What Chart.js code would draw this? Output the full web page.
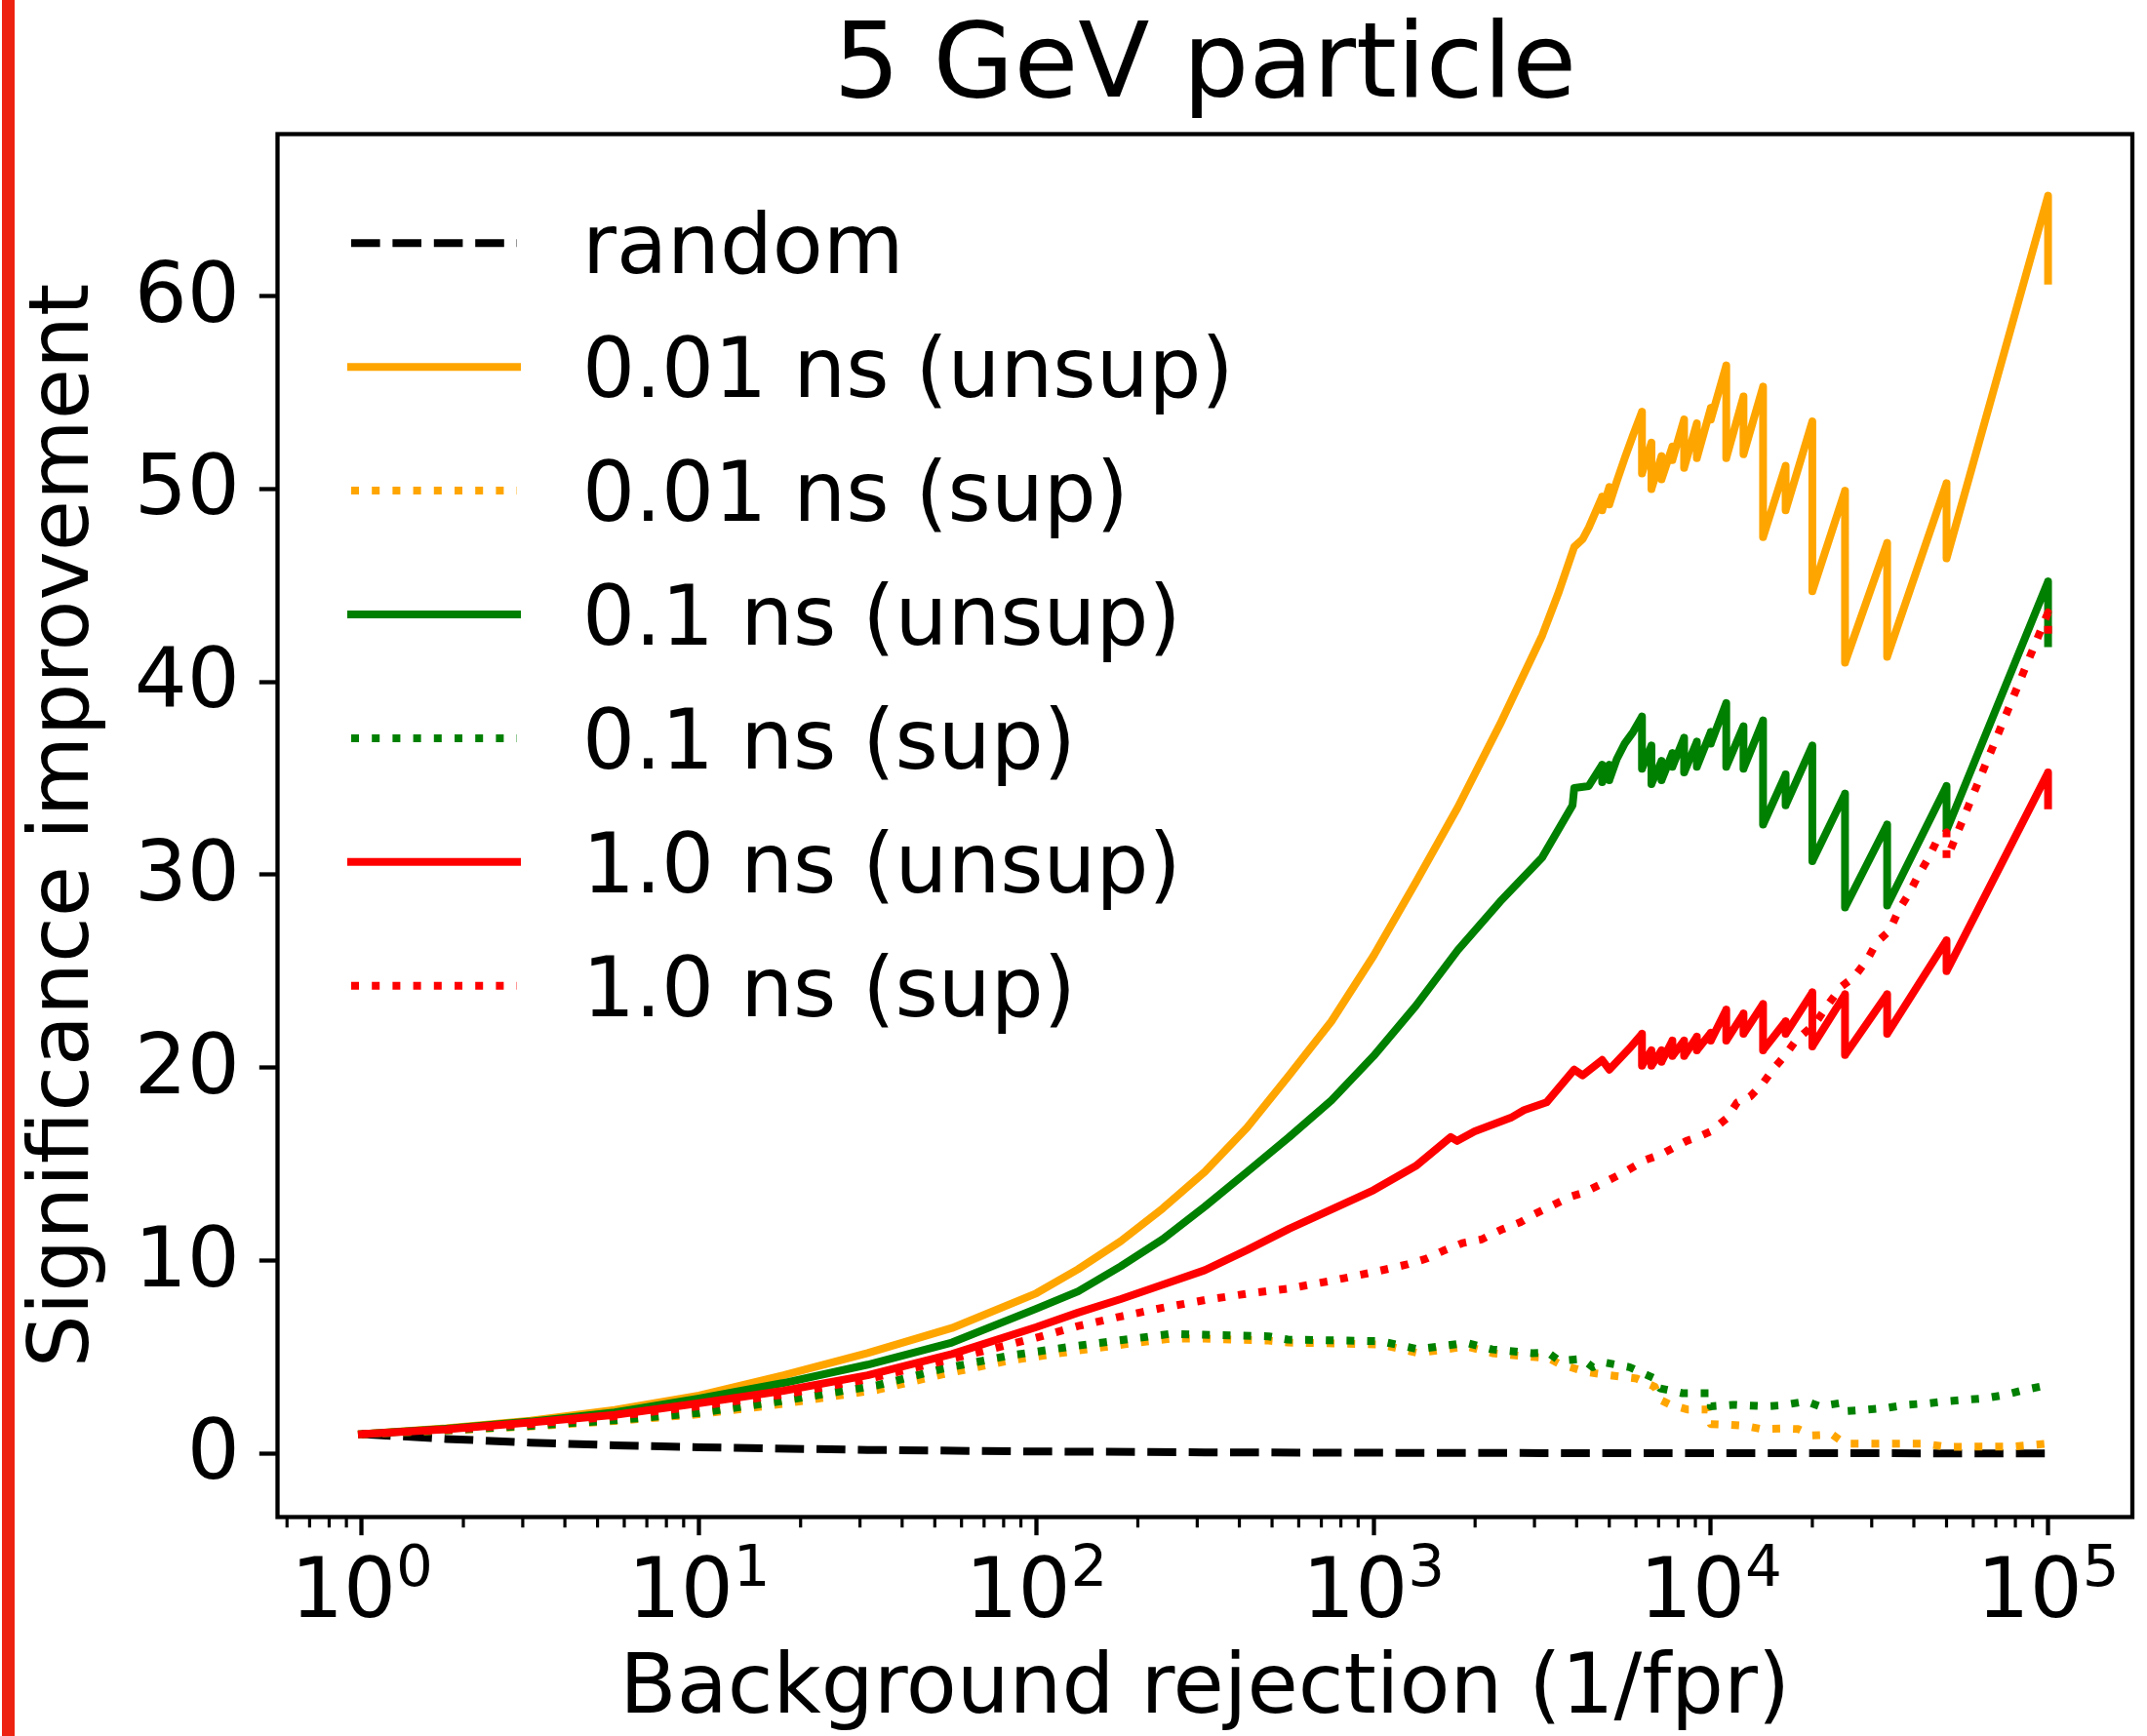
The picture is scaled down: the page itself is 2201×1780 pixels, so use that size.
<!DOCTYPE html>
<html>
<head>
<meta charset="utf-8">
<script src="https://cdn.jsdelivr.net/npm/chart.js@4.4.1/dist/chart.umd.min.js"></script>
<style>
  html, body { margin: 0; padding: 0; background: #fff; }
  canvas { display: block; }
</style>
</head>
<body>
<canvas id="myChart" width="2201" height="1780" style="width:2201px;height:1780px"></canvas>
<script>
const FONT = 'DejaVu Sans';

// axis ranges and ticks
const xMin = 0.5623;
const xMax = 177828;
const yMin = -3.3;
const yMax = 68.4;
const yTicks = [0, 10, 20, 30, 40, 50, 60];
const xDecades = [1, 10, 100, 1000, 10000, 100000];
const xExponents = ['0', '1', '2', '3', '4', '5'];

const labels = ['random', '0.01 ns (unsup)', '0.01 ns (sup)', '0.1 ns (unsup)', '0.1 ns (sup)', '1.0 ns (unsup)', '1.0 ns (sup)'];

// random
const randX = [1, 1.78, 3.16, 5.62, 10, 31.6, 100, 316, 1000, 3160, 10000, 31600, 100000];
const randY = [1, 0.75, 0.56, 0.42, 0.32, 0.18, 0.1, 0.056, 0.032, 0.018, 0.01, 0.006, 0.003];

// 0.01 ns (unsup)
const o1X = [1, 1.78, 3.16, 5.62, 10, 17.8, 31.6, 56.2, 100, 133, 178, 237, 316, 422, 562, 750, 1000, 1334, 1778, 2371, 3162, 3548, 3936, 4167, 4348, 4762, 4762, 5000, 5000, 5263, 5556, 5882, 6250, 6250, 6667, 6667, 7143, 7143, 7692, 7692, 8333, 8333, 9091, 9091, 10000, 10000, 11111, 11111, 12500, 12500, 14286, 14286, 16667, 16667, 20000, 20000, 25000, 25000, 33333, 33333, 50000, 50000, 100000, 100000];
const o1Y = [1, 1.3, 1.7, 2.25, 3.0, 4.05, 5.2, 6.5, 8.3, 9.55, 11.0, 12.7, 14.6, 16.9, 19.6, 22.4, 25.8, 29.6, 33.5, 37.8, 42.4, 44.7, 47.0, 47.4, 48.0, 49.6, 48.9, 50.1, 49.2, 50.4, 51.6, 52.8, 54.0, 50.8, 52.4, 50.0, 51.7, 50.5, 52.2, 51.5, 53.6, 51.1, 53.4, 51.6, 54.2, 53.6, 56.4, 51.6, 54.8, 51.8, 55.3, 47.5, 51.2, 48.9, 53.5, 44.7, 49.9, 41.0, 47.2, 41.3, 50.3, 46.4, 65.2, 60.8];

// 0.01 ns (sup)
const o2X = [1, 1.78, 3.16, 5.62, 10, 17.4, 33.9, 52.8, 82.4, 129, 200, 250, 313, 488, 557, 1047, 1355, 1888, 2249, 2951, 3296, 3556, 4305, 5012, 6026, 6823, 7079, 7586, 8511, 9772, 10000, 11220, 12589, 14125, 16218, 18197, 19953, 22909, 25000, 32734, 42658, 49774, 79433, 100000];
const o2Y = [1, 1.19, 1.4, 1.68, 2.03, 2.55, 3.3, 4.1, 4.8, 5.3, 5.75, 5.95, 5.95, 5.85, 5.75, 5.65, 5.2, 5.55, 5.2, 5.0, 4.95, 4.64, 4.21, 4.05, 3.88, 3.45, 2.78, 2.52, 2.28, 2.28, 1.52, 1.49, 1.43, 1.26, 1.29, 1.26, 0.93, 0.98, 0.51, 0.51, 0.51, 0.34, 0.36, 0.51];

// 0.1 ns (unsup)
const g1X = [1, 1.78, 3.16, 5.62, 10, 17.8, 31.6, 56.2, 100, 133, 178, 237, 316, 422, 562, 750, 1000, 1334, 1778, 2371, 3162, 3890, 3936, 4345, 4762, 4762, 5000, 5000, 5263, 5556, 5882, 6250, 6250, 6667, 6667, 7143, 7143, 7692, 7692, 8333, 8333, 9091, 9091, 10000, 10000, 11111, 11111, 12500, 12500, 14286, 14286, 16667, 16667, 20000, 20000, 25000, 25000, 33333, 33333, 50000, 50000, 100000, 100000];
const g1Y = [1, 1.28, 1.65, 2.12, 2.85, 3.65, 4.6, 5.75, 7.5, 8.4, 9.7, 11.1, 12.8, 14.6, 16.4, 18.3, 20.6, 23.2, 26.1, 28.6, 30.9, 33.6, 34.5, 34.6, 35.7, 34.8, 35.7, 34.9, 36.0, 36.8, 37.4, 38.2, 35.5, 36.7, 34.7, 35.9, 34.9, 36.3, 35.6, 37.1, 35.3, 36.9, 35.6, 37.4, 36.8, 38.9, 35.6, 37.7, 35.5, 38.0, 32.6, 35.2, 33.6, 36.7, 30.7, 34.2, 28.3, 32.6, 28.4, 34.6, 32.3, 45.2, 42.0];

// 0.1 ns (sup)
const g2X = [1, 1.78, 3.16, 5.62, 10, 17.4, 33.9, 52.8, 82.4, 129, 200, 250, 313, 488, 557, 1047, 1355, 1888, 2249, 2951, 3296, 3556, 4150, 4467, 4831, 5741, 6823, 7079, 8241, 9977, 10000, 11641, 14555, 16368, 19143, 21038, 24044, 25000, 29107, 33266, 38019, 44259, 49774, 56885, 65013, 74302, 84918, 100000];
const g2Y = [1, 1.2, 1.43, 1.72, 2.1, 2.7, 3.54, 4.39, 5.06, 5.56, 5.98, 6.2, 6.15, 6.07, 5.9, 5.82, 5.4, 5.73, 5.39, 5.2, 5.22, 4.8, 4.9, 4.47, 4.72, 4.47, 3.88, 3.37, 3.12, 3.12, 2.44, 2.52, 2.44, 2.5, 2.7, 2.44, 2.6, 2.19, 2.27, 2.36, 2.52, 2.6, 2.7, 2.78, 2.86, 3.03, 3.29, 3.54];

// 1.0 ns (unsup)
const r1X = [1, 1.78, 3.16, 5.62, 10, 17.8, 31.6, 56.2, 100, 133, 178, 237, 316, 422, 562, 750, 1000, 1334, 1694, 1770, 1995, 2553, 2793, 3258, 3936, 4167, 4762, 5000, 5808, 6250, 6250, 6667, 6667, 7143, 7143, 7692, 7692, 8333, 8333, 9091, 9091, 10000, 10000, 11111, 11111, 12500, 12500, 14286, 14286, 16667, 16667, 20000, 20000, 25000, 25000, 33333, 33333, 50000, 50000, 100000, 100000];
const r1Y = [1, 1.25, 1.6, 2.0, 2.6, 3.25, 4.05, 5.15, 6.55, 7.3, 8.0, 8.75, 9.5, 10.55, 11.65, 12.65, 13.65, 14.9, 16.4, 16.2, 16.7, 17.4, 17.8, 18.2, 19.9, 19.6, 20.4, 19.9, 21.1, 21.75, 20.1, 20.9, 20.1, 20.9, 20.3, 21.4, 20.6, 21.4, 20.6, 21.6, 20.9, 21.8, 21.4, 23.0, 21.4, 22.8, 21.75, 23.3, 20.9, 22.4, 21.75, 23.9, 21.1, 23.8, 20.65, 23.8, 21.75, 26.6, 25.0, 35.3, 33.6];

// 1.0 ns (sup)
const r2X = [1, 1.78, 3.16, 5.62, 10, 17.8, 31.6, 56.2, 100, 133, 178, 237, 316, 422, 562, 750, 1000, 1125, 1259, 1435, 1607, 1832, 2094, 2393, 2735, 2992, 3342, 3819, 4169, 4775, 5572, 6368, 7112, 7762, 8472, 9162, 10000, 11194, 11967, 13092, 14289, 15276, 16711, 17865, 20417, 22336, 24378, 26607, 29107, 31046, 33884, 36141, 38637, 41305, 44157, 47206, 50000, 50000, 100000, 100000];
const r2Y = [1, 1.22, 1.52, 1.92, 2.45, 3.05, 3.85, 4.9, 6.0, 6.6, 7.1, 7.55, 7.95, 8.28, 8.55, 8.95, 9.4, 9.6, 9.8, 10.1, 10.5, 10.9, 11.1, 11.6, 12.0, 12.4, 12.8, 13.3, 13.5, 14.0, 14.6, 15.2, 15.5, 15.85, 16.2, 16.4, 16.7, 17.4, 18.2, 18.5, 19.2, 19.9, 20.7, 21.4, 22.3, 23.3, 24.2, 24.7, 25.6, 26.5, 27.1, 28.2, 29.0, 30.0, 30.85, 31.9, 32.2, 30.8, 43.6, 42.5];

const LW = 8;
const DASHED = [29.6, 12.8];
const DOTTED = [8, 13.2];

function series(i, xs, ys, color, dash) {
    return {
        label: labels[i],
        data: xs.map((x, k) => ({x: x, y: ys[k]})),
        borderColor: color,
        borderWidth: LW,
        borderDash: dash,
        borderCapStyle: dash.length ? 'butt' : 'square',
        borderJoinStyle: 'round',
        pointRadius: 0,
        pointHoverRadius: 0,
        tension: 0,
        fill: false,
        order: -i
    };
}

// minor tick positions for the log axis
const minorTicks = [];
for (let e = -1; e <= 5; e++) {
    for (let m = 2; m <= 9; m++) {
        const v = m * Math.pow(10, e);
        if (v > xMin && v < xMax) minorTicks.push(v);
    }
}

const decorations = {
    id: 'decorations',
    beforeDraw(chart) {
        const ctx = chart.ctx;
        ctx.save();
        ctx.fillStyle = '#ee2211';
        ctx.fillRect(2, 0, 13, chart.height);
        ctx.restore();
    },
    afterDraw(chart) {
        const {ctx, chartArea: a} = chart;
        const xScale = chart.scales.x;
        ctx.save();

        // axes frame
        ctx.strokeStyle = '#000';
        ctx.lineWidth = 4.3;
        ctx.setLineDash([]);
        ctx.strokeRect(a.left, a.top, a.right - a.left, a.bottom - a.top);

        // minor ticks
        ctx.lineWidth = 3.2;
        ctx.beginPath();
        minorTicks.forEach(v => {
            const px = xScale.getPixelForValue(v);
            ctx.moveTo(px, a.bottom);
            ctx.lineTo(px, a.bottom + 10.7);
        });
        ctx.stroke();

        // decade labels 10^n
        ctx.fillStyle = '#000';
        ctx.textBaseline = 'alphabetic';
        ctx.textAlign = 'left';
        xDecades.forEach((v, i) => {
            const px = xScale.getPixelForValue(v);
            ctx.font = '85px "' + FONT + '"';
            const wBase = ctx.measureText('10').width;
            ctx.font = '59.5px "' + FONT + '"';
            const wExp = ctx.measureText(xExponents[i]).width;
            const x0 = px - (wBase + wExp) / 2;
            ctx.font = '85px "' + FONT + '"';
            ctx.fillText('10', x0, a.bottom + 102);
            ctx.font = '59.5px "' + FONT + '"';
            ctx.fillText(xExponents[i], x0 + wBase, a.bottom + 70.5);
        });

        // legend
        const rowTop = a.top + 111.8;
        const rowStep = 126.9;
        ctx.font = '85px "' + FONT + '"';
        chart.data.datasets.forEach((ds, i) => {
            const cy = rowTop + i * rowStep;
            ctx.strokeStyle = ds.borderColor;
            ctx.lineWidth = ds.borderWidth;
            ctx.lineCap = ds.borderCapStyle;
            ctx.setLineDash(ds.borderDash);
            ctx.beginPath();
            ctx.moveTo(a.left + 75.5, cy);
            ctx.lineTo(a.left + 245.5, cy);
            ctx.stroke();
            ctx.setLineDash([]);
            ctx.fillText(ds.label, a.left + 312.5, cy + 31);
        });
        ctx.restore();
    }
};

const ctx = document.getElementById('myChart');

new Chart(ctx, {
    type: 'line',
    data: {
        datasets: [
            series(0, randX, randY, '#000000', DASHED),
            series(1, o1X, o1Y, '#ffa500', []),
            series(2, o2X, o2Y, '#ffa500', DOTTED),
            series(3, g1X, g1Y, '#008000', []),
            series(4, g2X, g2Y, '#008000', DOTTED),
            series(5, r1X, r1Y, '#ff0000', []),
            series(6, r2X, r2Y, '#ff0000', DOTTED)
        ]
    },
    options: {
        responsive: false,
        devicePixelRatio: 1,
        animation: false,
        layout: {padding: {top: 0, left: 0, right: 15, bottom: 0}},
        plugins: {
            legend: {display: false},
            tooltip: {enabled: false},
            title: {
                display: true,
                text: '5 GeV particle',
                fullSize: false,
                color: '#000',
                font: {family: FONT, size: 107, weight: 'normal', lineHeight: 1},
                padding: {top: 18, bottom: 12.5}
            }
        },
        scales: {
            x: {
                type: 'logarithmic',
                min: xMin,
                max: xMax,
                afterBuildTicks: scale => {
                    scale.ticks = xDecades.map(v => ({value: v, major: true}));
                },
                afterFit: scale => {
                    scale.height = 224.5;
                },
                grid: {drawOnChartArea: false, tickLength: 18.7, tickWidth: 4.3, tickColor: '#000'},
                border: {display: false},
                ticks: {display: false},
                title: {
                    display: true,
                    text: 'Background rejection (1/fpr)',
                    color: '#000',
                    font: {family: FONT, size: 85, lineHeight: 1},
                    padding: {top: 0, bottom: 3.6}
                }
            },
            y: {
                type: 'linear',
                min: yMin,
                max: yMax,
                afterBuildTicks: scale => {
                    scale.ticks = yTicks.map(v => ({value: v}));
                },
                afterFit: scale => {
                    scale.width = 284.5;
                },
                grid: {drawOnChartArea: false, tickLength: 18.7, tickWidth: 4.3, tickColor: '#000'},
                border: {display: false},
                ticks: {
                    color: '#000',
                    font: {family: FONT, size: 85},
                    padding: 20,
                    labelOffset: 4,
                    autoSkip: false,
                    callback: v => String(v)
                },
                title: {
                    display: true,
                    text: 'Significance improvement',
                    color: '#000',
                    font: {family: FONT, size: 85, lineHeight: 1},
                    padding: {top: 25, bottom: 0}
                }
            }
        }
    },
    plugins: [decorations]
});
</script>
</body>
</html>
